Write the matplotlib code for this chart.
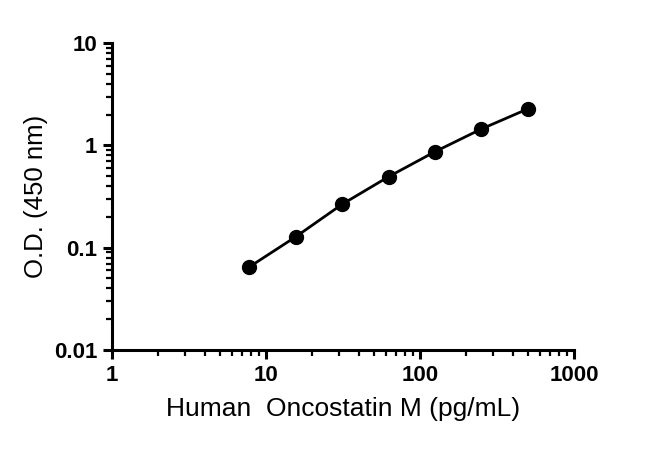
import matplotlib
matplotlib.use("Agg")
import matplotlib.pyplot as plt
from matplotlib.ticker import LogLocator, FixedLocator, NullFormatter

concentration = [7.8125, 15.625, 31.25, 62.5, 125, 250, 500]
od_450 = [0.065, 0.128, 0.266, 0.494, 0.867, 1.445, 2.27]
x_ticks = [1, 10, 100, 1000]
x_tick_labels = ["1", "10", "100", "1000"]
y_ticks = [0.01, 0.1, 1, 10]
y_tick_labels = ["0.01", "0.1", "1", "10"]

plt.rcParams['font.family'] = ['Liberation Sans', 'DejaVu Sans']

fig = plt.figure(figsize=(6.5, 4.49), dpi=100)
ax = fig.add_axes([0.1723, 0.2205, 0.7107, 0.6835])

ax.plot(concentration, od_450, color='black', lw=2.0, marker='o', ms=10,
        markerfacecolor='black', markeredgecolor='black', clip_on=False)

ax.set_xscale('log')
ax.set_yscale('log')
ax.set_xlim(1, 1000)
ax.set_ylim(0.01, 10)

ax.xaxis.set_major_locator(FixedLocator(x_ticks))
ax.set_xticklabels(x_tick_labels, fontweight='bold', fontsize=16)
ax.yaxis.set_major_locator(FixedLocator(y_ticks))
ax.set_yticklabels(y_tick_labels, fontweight='bold', fontsize=16)
ax.xaxis.set_minor_locator(LogLocator(base=10, subs=range(2, 10), numticks=20))
ax.yaxis.set_minor_locator(LogLocator(base=10, subs=range(2, 10), numticks=20))
ax.xaxis.set_minor_formatter(NullFormatter())
ax.yaxis.set_minor_formatter(NullFormatter())

for s in ['top', 'right']:
    ax.spines[s].set_visible(False)
for s in ['left', 'bottom']:
    ax.spines[s].set_linewidth(2.2)

ax.tick_params(which='major', direction='out', length=6.5, width=2.2, pad=4)
ax.tick_params(which='minor', direction='out', length=4, width=1.6)

ax.set_xlabel('Human  Oncostatin M (pg/mL)', fontsize=19, labelpad=8)
ax.set_ylabel('O.D. (450 nm)', fontsize=18.5, labelpad=4)

fig.savefig('out.png', dpi=100)
